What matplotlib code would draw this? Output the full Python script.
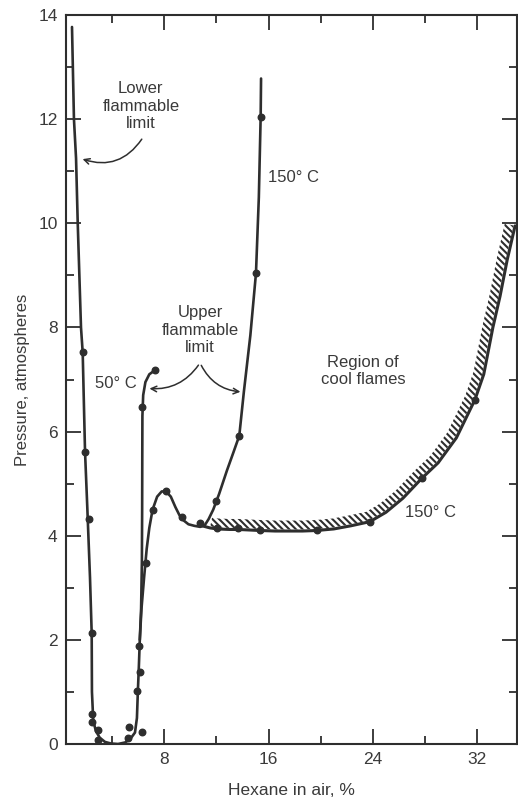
import matplotlib
matplotlib.use("Agg")
import matplotlib.pyplot as plt
import numpy as np
from matplotlib.patches import Polygon

# lower flammable limit, running down into the 50 C upper limit
lower_x = [0.92, 1.07, 1.23, 1.36, 1.61, 1.74, 1.92, 2.10, 2.30, 2.43, 2.45, 2.55, 2.75,
           3.05, 3.45, 3.90, 4.45, 5.00, 5.40, 5.75, 5.90, 5.97, 6.05, 6.12, 6.22, 6.28,
           6.30, 6.31, 6.32, 6.38, 6.55, 6.85, 7.29]
lower_y = [13.77, 12.0, 11.25, 10.0, 8.0, 7.52, 5.61, 4.5, 3.2, 2.13, 1.0, 0.45, 0.25,
           0.12, 0.04, 0.01, 0.0, 0.03, 0.10, 0.22, 0.5, 1.0, 1.5, 2.0, 2.6, 3.5,
           4.5, 5.5, 6.3, 6.7, 6.95, 7.1, 7.18]

# 150 C branch with the hump and the upper limit
hot_x = [6.12, 6.25, 6.45, 6.65, 6.85, 7.10, 7.45, 7.80, 8.13, 8.50, 8.85, 9.15, 9.45,
         9.85, 10.3, 10.75, 11.1, 11.4, 11.75, 12.2, 12.8, 13.3, 13.75, 14.1, 14.6,
         15.03, 15.25, 15.39, 15.42]
hot_y = [2.0, 2.6, 3.2, 3.75, 4.15, 4.5, 4.75, 4.85, 4.85, 4.75, 4.55, 4.4, 4.3,
         4.22, 4.19, 4.17, 4.20, 4.32, 4.50, 4.80, 5.25, 5.60, 5.92, 6.76, 7.85,
         9.04, 10.5, 12.05, 12.78]

# cool flame boundary (150 C)
cool_x = [10.9, 11.5, 12.06, 13.0, 13.67, 14.5, 15.34, 16.5, 17.5, 18.6, 19.68, 21.0,
          22.3, 23.77, 25.0, 26.3, 27.74, 29.0, 30.4, 31.82, 32.5, 33.2, 33.75, 34.3, 34.9]
cool_y = [4.19, 4.15, 4.13, 4.12, 4.12, 4.11, 4.10, 4.09, 4.09, 4.09, 4.10, 4.13,
          4.19, 4.27, 4.45, 4.72, 5.10, 5.40, 5.88, 6.61, 7.10, 8.0, 8.6, 9.3, 9.95]

# measured points
dot_x = [1.74, 1.92, 2.25, 2.43, 2.43, 2.48, 2.94, 2.89, 5.31, 5.24, 6.27, 5.88, 6.13,
         6.08, 6.57, 6.31, 7.29, 7.10, 8.13, 9.33, 10.74, 11.96, 13.75, 15.03, 15.39,
         12.06, 13.67, 15.34, 19.68, 23.77, 27.74, 31.82]
dot_y = [7.52, 5.61, 4.33, 2.13, 0.58, 0.42, 0.26, 0.08, 0.33, 0.12, 0.24, 1.02, 1.38,
         1.89, 3.47, 6.48, 7.18, 4.49, 4.85, 4.35, 4.24, 4.67, 5.92, 9.04, 12.05,
         4.14, 4.14, 4.11, 4.11, 4.27, 5.10, 6.61]

x_ticks = [8, 16, 24, 32]
y_ticks = [0, 2, 4, 6, 8, 10, 12, 14]

ink = '#2e2e2e'
txt = '#3a3a3a'

plt.rcParams['font.family'] = ['Liberation Sans', 'DejaVu Sans']
plt.rcParams['hatch.linewidth'] = 1.5

fig = plt.figure(figsize=(5.18, 7.98), dpi=100)
ax = fig.add_axes([66 / 518, 54 / 798, (517 - 66) / 518, (744 - 15) / 798])
ax.set_xlim(0.46, 35.05)
ax.set_ylim(0, 14)

ax.plot(lower_x, lower_y, color=ink, lw=1.9, solid_capstyle='round', zorder=3)
ax.plot(hot_x, hot_y, color=ink, lw=1.9, solid_capstyle='round', zorder=3)
ax.plot(cool_x, cool_y, color=ink, lw=2.2, solid_capstyle='round', zorder=3)
ax.scatter(dot_x, dot_y, s=22, color=ink, zorder=4)

# hatched band on the upper side of the cool flame boundary
pts = ax.transData.transform(np.column_stack([cool_x, cool_y]))
tang = np.gradient(pts, axis=0)
tang = tang / np.linalg.norm(tang, axis=1)[:, None]
norm = np.column_stack([-tang[:, 1], tang[:, 0]])
inner = pts + norm * 1.5
outer = pts + norm * 10.5
band = np.vstack([inner[1:], outer[1:][::-1]])
band = ax.transData.inverted().transform(band)
ax.add_patch(Polygon(band, closed=True, facecolor='none', edgecolor=ink,
                     lw=0, hatch='\\\\\\\\\\', zorder=2))

# text and arrows
ax.text(6.2, 12.25, 'Lower\nflammable\nlimit', ha='center', va='center',
        fontsize=12, color=txt, linespacing=1.2)
ax.annotate('', xy=(1.53, 11.25), xytext=(6.39, 11.66),
            arrowprops=dict(arrowstyle='->', color=ink, lw=1.1,
                            connectionstyle='arc3,rad=-0.4'))
ax.text(10.74, 7.95, 'Upper\nflammable\nlimit', ha='center', va='center',
        fontsize=12, color=txt, linespacing=1.2)
ax.annotate('', xy=(6.65, 6.83), xytext=(10.74, 7.32),
            arrowprops=dict(arrowstyle='->', color=ink, lw=1.1,
                            connectionstyle='arc3,rad=-0.3'))
ax.annotate('', xy=(14.05, 6.76), xytext=(10.74, 7.32),
            arrowprops=dict(arrowstyle='->', color=ink, lw=1.1,
                            connectionstyle='arc3,rad=0.3'))
ax.text(4.26, 6.93, '50° C', ha='center', va='center', fontsize=12, color=txt)
ax.text(17.94, 10.88, '150° C', ha='center', va='center', fontsize=12, color=txt)
ax.text(23.24, 7.16, 'Region of\ncool flames', ha='center', va='center',
        fontsize=12, color=txt, linespacing=1.2)
ax.text(28.41, 4.44, '150° C', ha='center', va='center', fontsize=12, color=txt)

# axes styling
ax.set_xticks(x_ticks)
ax.set_xticks([4, 12, 20, 28], minor=True)
ax.set_yticks(y_ticks)
ax.set_yticks([1, 3, 5, 7, 9, 11, 13], minor=True)
ax.tick_params(which='both', direction='in', top=True, right=True,
               color=ink, width=1.3, labelsize=12.5, labelcolor=txt)
ax.tick_params(which='major', length=10.5, pad=6)
ax.tick_params(which='minor', length=5.5)
for s in ax.spines.values():
    s.set_color(ink)
    s.set_linewidth(1.5)

ax.set_xlabel('Hexane in air, %', fontsize=12.5, color=txt, labelpad=11)
ax.set_ylabel('Pressure, atmospheres', fontsize=12, color=txt, labelpad=6)

fig.savefig('out.png', dpi=100, facecolor='white')
